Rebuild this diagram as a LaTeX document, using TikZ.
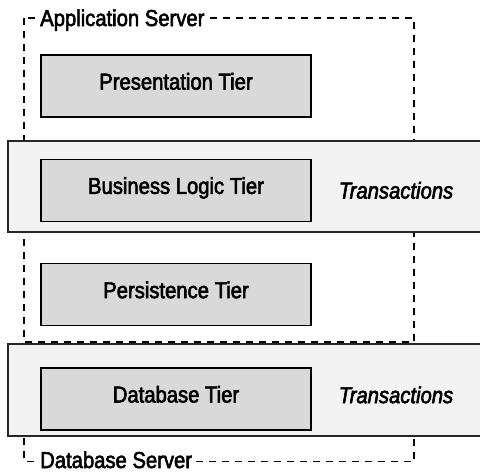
\documentclass[tikz,border=0pt]{standalone}
\usepackage{fontspec}
\setmainfont[FakeStretch=0.88, FakeBold=2.5]{Liberation Sans}
\usetikzlibrary{positioning}
\definecolor{tierfill}{RGB}{217, 217, 217}
\definecolor{bandfill}{RGB}{243, 243, 243}

\begin{document}
\begin{tikzpicture}[
	x=1pt, y=-1pt,
	font=\fontsize{23}{26}\selectfont,
	% Styles for the tiers, the transaction bands and the servers
	tierbox/.style={draw=black, line width=1.3pt, fill=tierfill, minimum width=270pt, minimum height=62pt, inner sep=0pt, text height=0.716em, text depth=0pt},
	txband/.style={draw=black!85, line width=1.4pt, fill=bandfill, minimum width=476pt, inner sep=0pt},
	serverbox/.style={draw=black, line width=1.3pt, dash pattern=on 7pt off 6pt},
	serverlabel/.style={fill=white, inner sep=2pt, anchor=base west},
	txlabel/.style={font=\fontsize{23}{26}\selectfont\itshape, inner sep=0pt}
	]
	\useasboundingbox (0,0) rectangle (480,472);
	
	% ==========================================
	% 1. SERVERS (dashed outlines)
	% ==========================================
	\draw[serverbox] (24,18) rectangle (414,342);
	\draw[serverbox] (24,360) rectangle (414,461.5);
	
	% ==========================================
	% 2. TRANSACTION BANDS
	% ==========================================
	\node[txband, minimum height=91pt] (band1) at (246,186.5) {};
	\node[txband, minimum height=92pt] (band2) at (246,390) {};
	
	% ==========================================
	% 3. TIERS
	% ==========================================
	\node[tierbox] (presentation) at (176,86) {Presentation Tier};
	\node[tierbox, below=41pt of presentation] (business) {Business Logic Tier};
	\node[tierbox, below=41pt of business] (persistence) {Persistence Tier};
	\node[tierbox, below=41pt of persistence] (database) {Database Tier};
	
	% Transactions next to the tiers they span
	\node[txlabel, right=27pt of business] (tx1) {Transactions};
	\node[txlabel, right=27pt of database, yshift=4pt] (tx2) {Transactions};
	
	% Server labels sit on the dashed lines
	\node[serverlabel] (appserver) at (38,26) {Application Server};
	\node[serverlabel] (dbserver) at (38,468) {Database Server};
	
\end{tikzpicture}
\end{document}
